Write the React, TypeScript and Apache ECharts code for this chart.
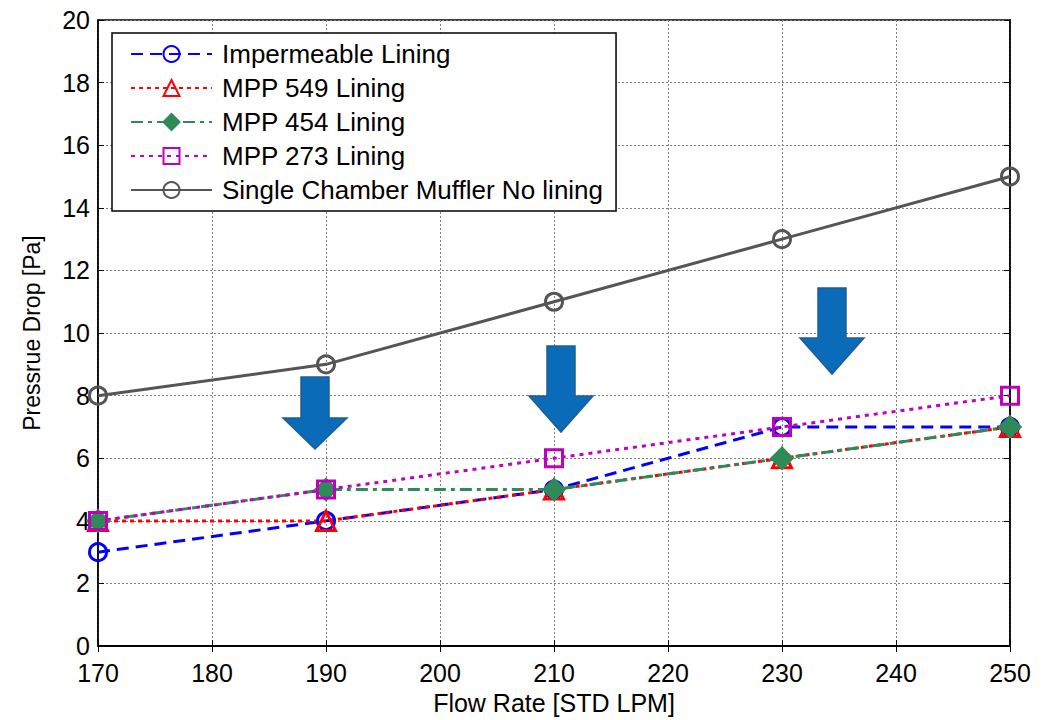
import React, { useEffect, useRef } from "react";
import * as echarts from "echarts";

const flowRates = [170, 190, 210, 230, 250];
const impermeable = [3, 4, 5, 7, 7];
const mpp549 = [4, 4, 5, 6, 7];
const mpp454 = [4, 5, 5, 6, 7];
const mpp273 = [4, 5, 6, 7, 8];
const singleChamber = [8, 9, 11, 13, 15];

const seriesNames = [
  "Impermeable Lining",
  "MPP 549 Lining",
  "MPP 454 Lining",
  "MPP 273 Lining",
  "Single Chamber Muffler No lining",
];

const pairs = (ys: number[]) => flowRates.map((x, i) => [x, ys[i]]);

function arrow(tx: number, yt: number, yh: number, ty: number) {
  const s = 14;
  const h = 32;
  return {
    type: "polygon",
    shape: {
      points: [
        [tx - s, yt],
        [tx + s, yt],
        [tx + s, yh],
        [tx + h, yh],
        [tx, ty],
        [tx - h, yh],
        [tx - s, yh],
      ],
    },
    style: { fill: "#0a6cb8", stroke: "#215d91", lineWidth: 1.5 },
    z: 100,
  };
}

export default function App() {
  const ref = useRef<HTMLDivElement>(null);
  useEffect(() => {
    if (!ref.current) return;
    const chart = echarts.init(ref.current, undefined, { renderer: "svg" });
    const sans = "'Liberation Sans', Arial, sans-serif";
    const lineSeries = (
      name: string,
      data: number[],
      color: string,
      type: any,
      symbol: string,
      size: number,
      filled: boolean
    ) => ({
      name,
      type: "line",
      data: pairs(data),
      symbol,
      symbolSize: size,
      showAllSymbol: true,
      lineStyle: { color, width: 3, type },
      itemStyle: {
        color: filled ? color : "rgba(255,255,255,0)",
        borderColor: color,
        borderWidth: 3,
      },
      emphasis: { disabled: true },
    });
    chart.setOption({
      animation: false,
      backgroundColor: "#ffffff",
      grid: {
        left: 98,
        right: 31,
        top: 20,
        bottom: 68,
        show: true,
        borderColor: "#000",
        borderWidth: 1.5,
      },
      legend: {
        orient: "vertical",
        left: 112,
        top: 33,
        padding: [8, 13, 8, 18],
        itemGap: 8,
        itemWidth: 81,
        itemHeight: 20,
        backgroundColor: "#fff",
        borderColor: "#000",
        borderWidth: 1.5,
        borderRadius: 0,
        textStyle: {
          fontFamily: sans,
          fontSize: 26,
          color: "#000",
          lineHeight: 24,
          padding: [0, 0, 0, 5],
        },
        data: seriesNames,
      },
      xAxis: [
        {
          type: "value",
          min: 170,
          max: 250,
          interval: 10,
          name: "Flow Rate [STD LPM]",
          nameLocation: "middle",
          nameGap: 42,
          nameTextStyle: { fontFamily: sans, fontSize: 25, color: "#000" },
          axisLine: { show: true, lineStyle: { color: "#000", width: 1.5 } },
          axisTick: { show: true, inside: true, length: 6, lineStyle: { color: "#000" } },
          axisLabel: { fontFamily: sans, fontSize: 25, color: "#000", margin: 14 },
          splitLine: { show: true, lineStyle: { color: "#808080", type: [2, 2], width: 1 } },
        },
        {
          type: "value",
          position: "top",
          min: 170,
          max: 250,
          interval: 10,
          axisLine: { show: true, lineStyle: { color: "#000", width: 1.5 } },
          axisTick: { show: true, inside: true, length: 6, lineStyle: { color: "#000" } },
          axisLabel: { show: false },
          splitLine: { show: false },
        },
      ],
      yAxis: [
        {
          type: "value",
          min: 0,
          max: 20,
          interval: 2,
          name: "Pressrue Drop [Pa]",
          nameLocation: "middle",
          nameGap: 55,
          nameTextStyle: { fontFamily: sans, fontSize: 23, color: "#000" },
          axisLine: { show: true, lineStyle: { color: "#000", width: 1.5 } },
          axisTick: { show: true, inside: true, length: 6, lineStyle: { color: "#000" } },
          axisLabel: { fontFamily: sans, fontSize: 25, color: "#000", margin: 8 },
          splitLine: { show: true, lineStyle: { color: "#808080", type: [2, 2], width: 1 } },
        },
        {
          type: "value",
          position: "right",
          min: 0,
          max: 20,
          interval: 2,
          axisLine: { show: true, lineStyle: { color: "#000", width: 1.5 } },
          axisTick: { show: true, inside: true, length: 6, lineStyle: { color: "#000" } },
          axisLabel: { show: false },
          splitLine: { show: false },
        },
      ],
      series: [
        lineSeries(seriesNames[4], singleChamber, "#555555", "solid", "circle", 17, false),
        lineSeries(seriesNames[0], impermeable, "#0000ff", [12, 7], "circle", 17, false),
        lineSeries(seriesNames[1], mpp549, "#ff0000", [4, 4], "triangle", 19, false),
        lineSeries(seriesNames[2], mpp454, "#2e8b57", [12, 5, 4, 5], "diamond", 20, true),
        lineSeries(seriesNames[3], mpp273, "#bf00bf", [4, 5], "rect", 17, false),
      ],
      graphic: [arrow(315, 377, 418, 449), arrow(561, 346, 396, 432), arrow(832, 288, 338, 374)],
    });
    return () => chart.dispose();
  }, []);
  return (
    <div
      ref={ref}
      style={{ position: "fixed", left: 0, top: 0, width: 1041, height: 720, background: "#fff" }}
    />
  );
}
